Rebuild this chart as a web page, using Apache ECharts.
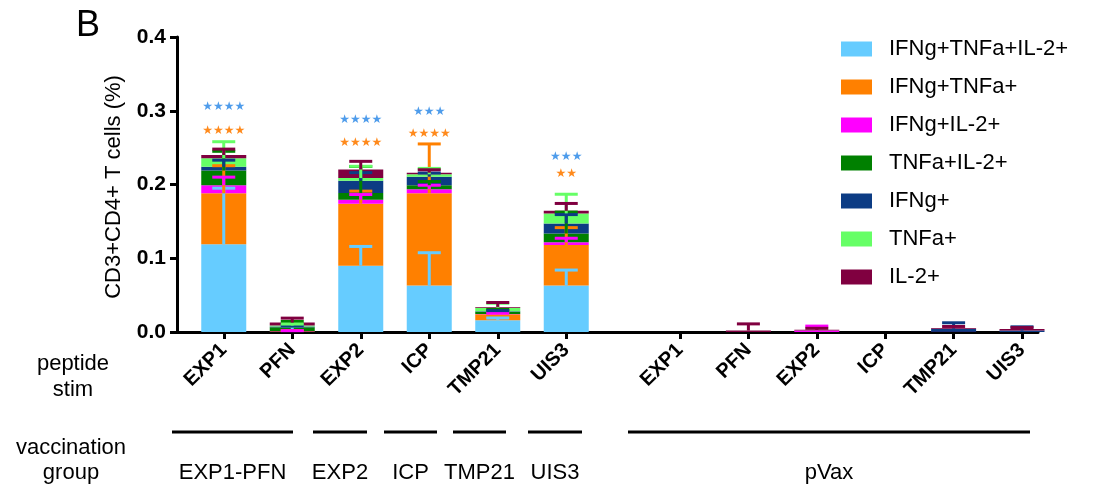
<!DOCTYPE html>
<html><head><meta charset="utf-8">
<script src="https://cdn.jsdelivr.net/npm/echarts@6/dist/echarts.min.js"></script>
<style>html,body{margin:0;padding:0;background:#fff}#c{width:1096px;height:488px}</style>
</head><body><div id="c"></div>
<script>
// ---------- DATA ----------
const stimCategories = ['EXP1', 'PFN', 'EXP2', 'ICP', 'TMP21', 'UIS3'];
const seriesNames = ['IFNg+TNFa+IL-2+', 'IFNg+TNFa+', 'IFNg+IL-2+', 'TNFa+IL-2+', 'IFNg+', 'TNFa+', 'IL-2+'];
const seriesColors = ['#66CCFF', '#FF8000', '#FF00FF', '#008000', '#0C3C84', '#66FF66', '#800040'];
const yTicks = [0, 0.1, 0.2, 0.3, 0.4];

// vaccinated groups (EXP1-PFN, EXP2, ICP, TMP21, UIS3), means per stim peptide
const vacTriple   = [0.119, 0.0005, 0.090, 0.063, 0.016, 0.063];
const vacIfnTnf   = [0.069, 0.0005, 0.084, 0.125, 0.008, 0.055];
const vacIfnIl2   = [0.011, 0.0003, 0.0054, 0.0055, 0.0005, 0.0036];
const vacTnfIl2   = [0.020, 0.005, 0.009, 0.0055, 0.003, 0.012];
const vacIfn      = [0.005, 0.001, 0.0167, 0.0116, 0.0005, 0.0136];
const vacTnf      = [0.0115, 0.0015, 0.0036, 0.0032, 0.005, 0.0136];
const vacIl2      = [0.0045, 0.004, 0.0117, 0.0022, 0.001, 0.0035];
// error (upper SEM)
const vacTripleErr = [0.076, 0.008, 0.026, 0.0445, 0.003, 0.021];
const vacIfnTnfErr = [0.0375, 0.001, 0.017, 0.067, 0.004, 0.0235];
const vacIfnIl2Err = [0.011, 0.0005, 0.007, 0.0055, 0.001, 0.0055];
const vacTnfIl2Err = [0.026, 0.008, 0.036, 0.005, 0.003, 0.029];
const vacIfnErr    = [0.009, 0.001, 0.011, 0.005, 0.001, 0.012];
const vacTnfErr    = [0.0225, 0.002, 0.016, 0.008, 0.006, 0.026];
const vacIl2Err    = [0.008, 0.006, 0.011, 0.004, 0.006, 0.010];

// pVax group
const pvaxTriple = [0, 0, 0, 0, 0, 0];
const pvaxIfnTnf = [0, 0, 0, 0, 0, 0];
const pvaxIfnIl2 = [0, 0, 0.002, 0, 0.0005, 0];
const pvaxTnfIl2 = [0, 0, 0, 0, 0, 0];
const pvaxIfn    = [0, 0, 0, 0, 0.004, 0.002];
const pvaxTnf    = [0, 0, 0, 0, 0, 0];
const pvaxIl2    = [0, 0.002, 0.001, 0, 0.001, 0.002];
const pvaxTripleErr = [0, 0, 0, 0, 0, 0];
const pvaxIfnTnfErr = [0, 0, 0, 0, 0, 0];
const pvaxIfnIl2Err = [0, 0, 0.006, 0, 0, 0];
const pvaxTnfIl2Err = [0, 0, 0, 0, 0, 0];
const pvaxIfnErr    = [0, 0, 0, 0, 0.008, 0.005];
const pvaxTnfErr    = [0, 0, 0, 0, 0, 0];
const pvaxIl2Err    = [0, 0.009, 0.002, 0, 0.002, 0.002];

// significance annotations (vaccinated groups)
const starsBlue    = ['★★★★', '', '★★★★', '★★★', '', '★★★'];
const starsBlueY   = [0.305, null, 0.2875, 0.2985, null, 0.2375];
const starsOrange  = ['★★★★', '', '★★★★', '★★★★', '', '★★'];
const starsOrangeY = [0.273, null, 0.257, 0.268, null, 0.215];

// bottom annotation texts
const vaccGroupLabels = ['EXP1-PFN', 'EXP2', 'ICP', 'TMP21', 'UIS3', 'pVax'];

// ---------- LAYOUT (pixels, not data) ----------
const FONT = '"Liberation Sans", Arial, sans-serif';
const groupLineX = [[172, 293], [313, 367], [384, 437], [453, 506], [528, 582], [628, 1030]];
const capW = 23;

const vacVals = [vacTriple, vacIfnTnf, vacIfnIl2, vacTnfIl2, vacIfn, vacTnf, vacIl2];
const vacErrs = [vacTripleErr, vacIfnTnfErr, vacIfnIl2Err, vacTnfIl2Err, vacIfnErr, vacTnfErr, vacIl2Err];
const pvaxVals = [pvaxTriple, pvaxIfnTnf, pvaxIfnIl2, pvaxTnfIl2, pvaxIfn, pvaxTnf, pvaxIl2];
const pvaxErrs = [pvaxTripleErr, pvaxIfnTnfErr, pvaxIfnIl2Err, pvaxTnfIl2Err, pvaxIfnErr, pvaxTnfErr, pvaxIl2Err];

function errRender(color) {
  return function (params, api) {
    const x = api.value(0), b = api.value(1), t = api.value(2);
    const p0 = api.coord([x, b]), p1 = api.coord([x, t]);
    const h = capW / 2;
    return {
      type: 'group', children: [
        { type: 'line', shape: { x1: p0[0], y1: p0[1], x2: p1[0], y2: p1[1] }, style: { stroke: color, lineWidth: 3 } },
        { type: 'line', shape: { x1: p1[0] - h, y1: p1[1], x2: p1[0] + h, y2: p1[1] }, style: { stroke: color, lineWidth: 3 } }
      ]
    };
  };
}

const series = [];
function addPanel(vals, errs, axisIdx, stack) {
  const cum = stimCategories.map(() => 0);
  vals.forEach((arr, k) => {
    series.push({
      name: seriesNames[k], type: 'bar', stack: stack,
      xAxisIndex: axisIdx, yAxisIndex: axisIdx,
      barWidth: 45, itemStyle: { color: seriesColors[k] },
      data: arr, z: 2, emphasis: { disabled: true }
    });
  });
  const errData = vals.map(() => []);
  vals.forEach((arr, k) => {
    arr.forEach((v, c) => {
      const top = cum[c] + v;
      if (errs[k][c] > 0) errData[k].push([c, top, top + errs[k][c]]);
      cum[c] = top;
    });
  });
  errData.forEach((d, k) => {
    series.push({
      name: seriesNames[k], type: 'custom', xAxisIndex: axisIdx, yAxisIndex: axisIdx,
      renderItem: errRender(seriesColors[k]), data: d, z: 5, silent: true,
      encode: { x: 0, y: [1, 2] }
    });
  });
}
addPanel(vacVals, vacErrs, 1, 'vac');
addPanel(pvaxVals, pvaxErrs, 2, 'pvax');

function starSeries(texts, ys, color) {
  const d = [];
  texts.forEach((t, i) => { if (t) d.push([i, ys[i], t]); });
  return {
    type: 'custom', xAxisIndex: 1, yAxisIndex: 1, z: 6, silent: true,
    data: d, encode: { x: 0, y: 1 },
    renderItem: function (params, api) {
      const p = api.coord([api.value(0), api.value(1)]);
      return { type: 'text', x: p[0], y: p[1], style: { text: d[params.dataIndex][2], fill: color, font: '12px "DejaVu Sans"', align: 'center', verticalAlign: 'middle' } };
    }
  };
}
series.push(starSeries(starsBlue, starsBlueY, '#4E9CEB'));
series.push(starSeries(starsOrange, starsOrangeY, '#FF8A1C'));

const catAxis = (gi) => ({
  type: 'category', gridIndex: gi, data: stimCategories,
  axisLine: { show: false },
  axisTick: { show: true, alignWithLabel: true, length: 7, lineStyle: { color: '#000', width: 3 } },
  axisLabel: { rotate: 45, margin: 15, fontFamily: FONT, fontSize: 20, fontWeight: 'bold', color: '#000', interval: 0 },
  splitLine: { show: false }
});
const hiddenY = (gi) => ({ type: 'value', gridIndex: gi, min: 0, max: 0.4, show: false, splitLine: { show: false } });

const textEl = (x, y, s, extra) => Object.assign({ type: 'text', x: x, y: y, style: Object.assign({ text: s, font: '22px ' + FONT, fill: '#000', align: 'center', verticalAlign: 'middle' }, extra || {}) });

const graphic = [
  textEl(88, 26, 'B', { font: '36px ' + FONT }),
  { type: 'text', x: 114, y: 187, rotation: Math.PI / 2, style: { text: 'CD3+CD4+ T cells (%)', font: '22px ' + FONT, fill: '#000', align: 'center', verticalAlign: 'middle' } },
  textEl(73, 364, 'peptide'),
  textEl(73, 390, 'stim'),
  textEl(71, 448, 'vaccination'),
  textEl(71, 473, 'group')
];
groupLineX.forEach((g, i) => {
  graphic.push({ type: 'line', shape: { x1: g[0], y1: 432, x2: g[1], y2: 432 }, style: { stroke: '#000', lineWidth: 3 } });
  graphic.push(textEl((g[0] + g[1]) / 2, 473, vaccGroupLabels[i]));
});

const option = {
  animation: false,
  backgroundColor: '#fff',
  grid: [
    { left: 177, top: 37, width: 861, height: 295 },
    { left: 189.5, top: 37, width: 411, height: 295 },
    { left: 645.8, top: 37, width: 410.4, height: 295 }
  ],
  xAxis: [
    { type: 'value', gridIndex: 0, min: 0, max: 1, axisLine: { show: true, lineStyle: { color: '#000', width: 3 } }, axisTick: { show: false }, axisLabel: { show: false }, splitLine: { show: false } },
    catAxis(1), catAxis(2)
  ],
  yAxis: [
    {
      type: 'value', gridIndex: 0, min: 0, max: 0.4, interval: 0.1,
      axisLine: { show: true, lineStyle: { color: '#000', width: 3 } },
      axisTick: { show: true, length: 7, lineStyle: { color: '#000', width: 3 } },
      axisLabel: { fontFamily: FONT, fontSize: 21, fontWeight: 'bold', color: '#000', margin: 11, formatter: v => yTicks.includes(+v.toFixed(1)) ? v.toFixed(1) : '' },
      splitLine: { show: false }
    },
    hiddenY(1), hiddenY(2)
  ],
  legend: {
    orient: 'vertical', left: 841, top: 38, padding: 0,
    itemWidth: 31, itemHeight: 15, itemGap: 16, icon: 'rect',
    data: seriesNames,
    textStyle: { fontFamily: FONT, fontSize: 22, lineHeight: 22, color: '#000', padding: [0, 0, 0, 12] },
    selectedMode: false
  },
  graphic: graphic,
  series: series
};
const chart = echarts.init(document.getElementById('c'), null, { renderer: 'canvas' });
chart.setOption(option);
</script></body></html>
